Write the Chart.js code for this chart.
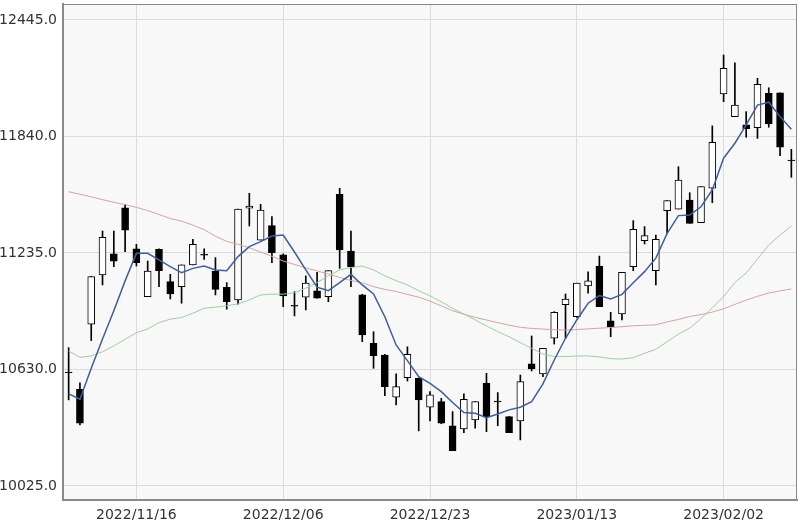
<!DOCTYPE html>
<html lang="en">
<head>
    <meta charset="UTF-8">
    <title>Candles</title>
    <script src="https://cdn.jsdelivr.net/npm/chart.js"></script>
    <style>
        body { margin: 0; background: #fff; }
    </style>
</head>
<body>
    <canvas id="candleChart" width="799" height="520"></canvas>

    <script>
        const dates = [
            '2022/11/08', '2022/11/09', '2022/11/10', '2022/11/11', '2022/11/14', '2022/11/15', '2022/11/16',
            '2022/11/17', '2022/11/18', '2022/11/21', '2022/11/22', '2022/11/23', '2022/11/25', '2022/11/28',
            '2022/11/29', '2022/11/30', '2022/12/01', '2022/12/02', '2022/12/05', '2022/12/06', '2022/12/07',
            '2022/12/08', '2022/12/09', '2022/12/12', '2022/12/13', '2022/12/14', '2022/12/15', '2022/12/16',
            '2022/12/19', '2022/12/20', '2022/12/21', '2022/12/22', '2022/12/23', '2022/12/27', '2022/12/28',
            '2022/12/29', '2022/12/30', '2023/01/03', '2023/01/04', '2023/01/05', '2023/01/06', '2023/01/09',
            '2023/01/10', '2023/01/11', '2023/01/12', '2023/01/13', '2023/01/17', '2023/01/18', '2023/01/19',
            '2023/01/20', '2023/01/23', '2023/01/24', '2023/01/25', '2023/01/26', '2023/01/27', '2023/01/30',
            '2023/01/31', '2023/02/01', '2023/02/02', '2023/02/03', '2023/02/06', '2023/02/07', '2023/02/08',
            '2023/02/09', '2023/02/10'
        ];
        const shownDates = ['2022/11/16', '2022/12/06', '2022/12/23', '2023/01/13', '2023/02/02'];
        const yTicks = [10025, 10630, 11235, 11840, 12445];

        const opens = [
            10617, 10527, 10865, 11121, 11230, 11470, 11256, 11008, 11254, 11086, 11060, 11173, 11228,
            11141, 11057, 10991, 11467, 11302, 11377, 11225, 10963, 11005, 11038, 11008, 11540, 11245,
            11017, 10766, 10705, 10486, 10587, 10584, 10434, 10463, 10337, 10321, 10368, 10558, 10466,
            10385, 10363, 10659, 10607, 10792, 10967, 10904, 11064, 11167, 10883, 10918, 11164, 11299,
            11143, 11455, 11463, 11510, 11392, 11571, 12061, 11943, 11901, 11886, 12064, 12067, 11718
        ];
        const highs = [
            10743, 10561, 11114, 11349, 11349, 11488, 11280, 11193, 11256, 11124, 11173, 11306, 11256,
            11211, 11081, 11463, 11545, 11488, 11424, 11230, 11034, 11116, 11135, 11143, 11571, 11349,
            11020, 10826, 10708, 10607, 10748, 10586, 10515, 10480, 10411, 10503, 10463, 10610, 10510,
            10385, 10601, 10804, 10740, 10930, 11022, 11078, 11137, 11219, 10927, 11135, 11403, 11372,
            11328, 11507, 11683, 11548, 11580, 11895, 12263, 12223, 11969, 12142, 12093, 12067, 11773
        ];
        const lows = [
            10472, 10342, 10780, 11069, 11164, 11242, 11167, 11008, 11060, 10996, 10974, 11173, 11202,
            11017, 10943, 10969, 11375, 11302, 11185, 10956, 10908, 10939, 11000, 10982, 11155, 11060,
            10774, 10636, 10494, 10446, 10570, 10311, 10363, 10348, 10208, 10302, 10325, 10307, 10338,
            10302, 10264, 10622, 10593, 10762, 10792, 10900, 11026, 10956, 10800, 10887, 11143, 11282,
            11069, 11337, 11463, 11389, 11392, 11496, 12021, 11943, 11836, 11830, 11888, 11740, 11628
        ];
        const closes = [
            10613, 10351, 11112, 11316, 11193, 11354, 11185, 11141, 11143, 11022, 11173, 11280, 11224,
            11046, 10982, 11463, 11478, 11458, 11237, 11012, 10959, 11078, 11000, 11143, 11251, 11164,
            10809, 10702, 10541, 10541, 10709, 10472, 10498, 10351, 10208, 10475, 10463, 10385, 10462,
            10302, 10567, 10633, 10740, 10927, 10995, 11078, 11090, 10956, 10852, 11135, 11358, 11325,
            11306, 11507, 11614, 11389, 11580, 11810, 12194, 12003, 11880, 12111, 11905, 11784, 11714
        ];

        // moving averages
        const ma5 = [
            10503, 10475, 10636, 10788, 10935, 11090, 11233, 11233, 11199, 11164, 11133, 11155, 11167,
            11147, 11143, 11216, 11268, 11294, 11323, 11328, 11240, 11147, 11057, 11039, 11081, 11124,
            11069, 11022, 10904, 10757, 10676, 10593, 10558, 10515, 10458, 10406, 10402, 10380, 10399,
            10420, 10434, 10463, 10555, 10679, 10792, 10887, 10974, 11014, 10996, 11020, 11080, 11138,
            11208, 11337, 11429, 11432, 11475, 11562, 11727, 11805, 11900, 12003, 12018, 11943, 11877
        ];
        const ma25 = [
            10726, 10693, 10700, 10722, 10752, 10787, 10821, 10840, 10873, 10891, 10900, 10922, 10948,
            10953, 10961, 10970, 10991, 11017, 11021, 11021, 11029, 11052, 11081, 11116, 11147, 11159,
            11167, 11147, 11116, 11091, 11069, 11039, 11012, 10982, 10948, 10918, 10887, 10856, 10826,
            10800, 10769, 10740, 10710, 10697, 10697, 10700, 10700, 10695, 10686, 10684, 10691, 10714,
            10735, 10774, 10814, 10844, 10895, 10950, 11008, 11082, 11131, 11204, 11276, 11328, 11375
        ];
        const ma75 = [
            11553, 11540, 11527, 11512, 11498, 11486, 11472, 11455, 11435, 11414, 11400, 11380, 11356,
            11322, 11295, 11280, 11262, 11240, 11218, 11193, 11175, 11158, 11142, 11126, 11108, 11092,
            11080, 11060, 11046, 11035, 11020, 11005, 10985, 10960, 10935, 10917, 10900, 10887, 10873,
            10860, 10849, 10843, 10840, 10836, 10835, 10837, 10841, 10844, 10848, 10852, 10857, 10859,
            10862, 10877, 10890, 10905, 10915, 10928, 10945, 10968, 10990, 11010, 11027, 11038, 11048
        ];

        const plotFrame = {
            id: 'plotFrame',
            beforeDraw(chart) {
                const { ctx, chartArea: a } = chart;
                ctx.save();
                ctx.fillStyle = '#f8f8f8';
                ctx.fillRect(a.left, a.top, a.right - a.left, a.bottom - a.top);
                ctx.restore();
            },
            afterDraw(chart) {
                const { ctx, chartArea: a } = chart;
                ctx.save();
                ctx.strokeStyle = '#8a8a8a';
                ctx.lineWidth = 1;
                ctx.strokeRect(a.left + 0.5, a.top + 0.5, a.right - a.left - 1, a.bottom - a.top - 1);
                ctx.restore();
            }
        };

        const bodyColors = opens.map((o, i) => closes[i] >= o ? '#ffffff' : '#000000');

        new Chart(document.getElementById('candleChart'), {
            type: 'bar',
            data: {
                labels: dates,
                datasets: [
                    {
                        type: 'line', data: ma5, borderColor: '#3f5e9c', borderWidth: 1.5,
                        pointRadius: 0, tension: 0, order: 1
                    },
                    {
                        type: 'line', data: ma25, borderColor: '#9fd09f', borderWidth: 1,
                        pointRadius: 0, tension: 0, order: 1
                    },
                    {
                        type: 'line', data: ma75, borderColor: '#d6a4a4', borderWidth: 1,
                        pointRadius: 0, tension: 0, order: 1
                    },
                    {
                        data: opens.map((o, i) => [o, closes[i]]),
                        backgroundColor: bodyColors, borderColor: '#000', borderWidth: 1,
                        borderSkipped: false, barThickness: 7, grouped: false, order: 2
                    },
                    {
                        data: lows.map((l, i) => [l, highs[i]]),
                        backgroundColor: '#000', borderWidth: 0,
                        barThickness: 1, grouped: false, order: 3
                    }
                ]
            },
            options: {
                responsive: false,
                animation: false,
                layout: { padding: { top: 4, right: 2, left: 0, bottom: 0 } },
                plugins: { legend: { display: false }, tooltip: { enabled: false } },
                scales: {
                    x: {
                        offset: true,
                        afterFit: s => { s.height = 20; s.paddingLeft = 0; s.paddingRight = 0; },
                        grid: {
                            offset: false, drawTicks: false,
                            color: c => shownDates.includes(dates[c.index]) ? '#dcdcdc' : 'rgba(0,0,0,0)'
                        },
                        border: { color: '#8a8a8a', width: 2 },
                        ticks: {
                            autoSkip: false, maxRotation: 0, padding: 7, color: '#333',
                            font: { family: 'DejaVu Sans', size: 14 },
                            callback: function (v, i) { return shownDates.includes(dates[i]) ? dates[i] : ''; }
                        }
                    },
                    y: {
                        min: 9952, max: 12528,
                        afterFit: s => { s.width = 63; s.paddingTop = 0; s.paddingBottom = 0; },
                        afterBuildTicks: s => { s.ticks = yTicks.map(v => ({ value: v })); },
                        grid: { color: '#dcdcdc', drawTicks: false },
                        border: { color: '#8a8a8a', width: 2 },
                        ticks: {
                            padding: 6, color: '#333',
                            font: { family: 'DejaVu Sans', size: 14 },
                            callback: v => v.toFixed(1)
                        }
                    }
                }
            },
            plugins: [plotFrame]
        });
    </script>
</body>
</html>
